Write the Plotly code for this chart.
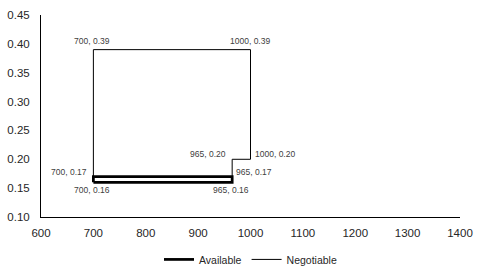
import plotly.graph_objects as go

avail_x = [700, 965, 965, 700, 700]
avail_y = [0.16, 0.16, 0.17, 0.17, 0.16]
neg_x = [700, 700, 1000, 1000, 965, 965]
neg_y = [0.17, 0.39, 0.39, 0.20, 0.20, 0.17]

label_x = [700, 1000, 700, 700, 965, 965, 965, 1000]
label_y = [0.39, 0.39, 0.17, 0.16, 0.16, 0.20, 0.17, 0.20]
label_pos = ["top", "top", "left", "bottom", "bottom", "left", "right", "right"]

x_ticks = [600, 700, 800, 900, 1000, 1100, 1200, 1300, 1400]
y_ticks = [0.10, 0.15, 0.20, 0.25, 0.30, 0.35, 0.40, 0.45]

FONT = "Liberation Sans"

fig = go.Figure()
fig.add_trace(go.Scatter(x=avail_x, y=avail_y, mode="lines", name="Available",
                         line=dict(color="black", width=2.75)))
fig.add_trace(go.Scatter(x=neg_x, y=neg_y, mode="lines", name="Negotiable",
                         line=dict(color="black", width=1)))

for x, y, p in zip(label_x, label_y, label_pos):
    txt = f"{x}, {y:.2f}"
    kw = dict(x=x, y=y, text=txt, showarrow=False,
              font=dict(family=FONT, size=8.5, color="#404040"))
    if p == "top":
        kw.update(xanchor="center", yanchor="bottom", yshift=2, xshift=-1)
    elif p == "bottom":
        kw.update(xanchor="center", yanchor="top", yshift=-1, xshift=-1)
    elif p == "left":
        kw.update(xanchor="right", yanchor="middle", xshift=-4, yshift=5)
    else:
        kw.update(xanchor="left", yanchor="middle", xshift=2, yshift=5)
    fig.add_annotation(**kw)

fig.update_layout(
    width=487, height=279,
    margin=dict(l=41, r=27, t=15, b=62, autoexpand=False),
    paper_bgcolor="white", plot_bgcolor="white",
    font=dict(family=FONT, size=11.5, color="#262626"),
    showlegend=True,
    legend=dict(orientation="h", x=0.5, xanchor="center", y=-0.21, yanchor="middle",
                font=dict(family=FONT, size=10.5, color="#262626"),
                itemwidth=30, tracegroupgap=0),
)
fig.update_xaxes(range=[600, 1400], tickvals=x_ticks, ticktext=[str(v) for v in x_ticks],
                 showgrid=False, zeroline=False, showline=True, linecolor="black", linewidth=1,
                 ticks="outside", ticklen=5, tickcolor="rgba(0,0,0,0)")
fig.update_yaxes(range=[0.10, 0.45], tickvals=y_ticks, ticktext=[f"{v:.2f}" for v in y_ticks],
                 showgrid=False, zeroline=False, showline=True, linecolor="black", linewidth=1,
                 ticks="outside", ticklen=8, tickcolor="rgba(0,0,0,0)")

fig.write_html("out.html")
